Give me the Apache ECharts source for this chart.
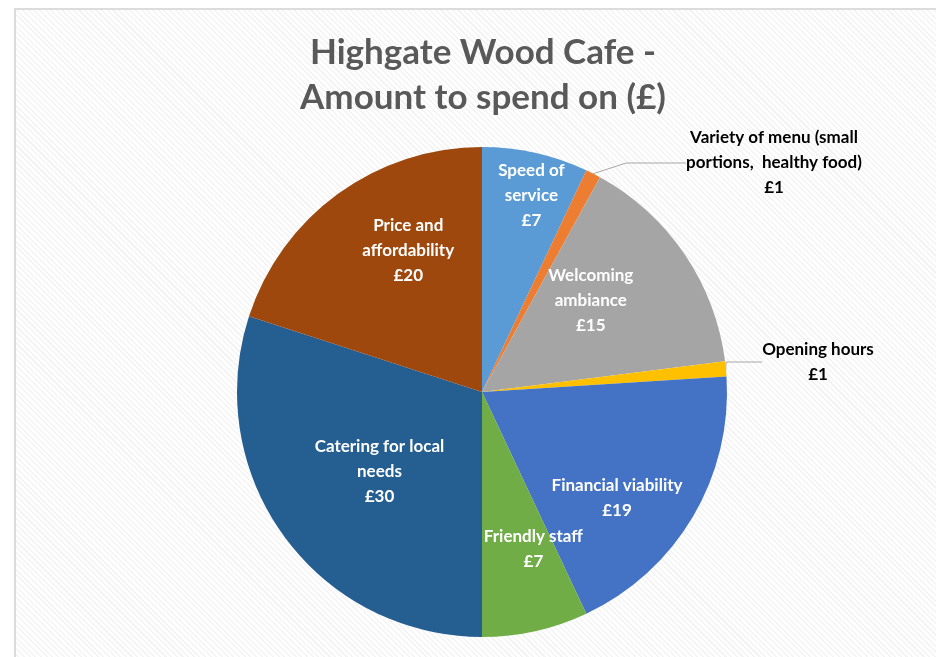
<!DOCTYPE html>
<html>
<head>
<meta charset="utf-8">
<script src="https://cdn.jsdelivr.net/npm/echarts@6/dist/echarts.min.js"></script>
<style>
  html, body { margin: 0; padding: 0; background: #ffffff; }
  #wrap { position: relative; width: 936px; height: 657px; overflow: hidden; background: #ffffff; }
  #frame { position: absolute; left: 14px; top: 8px; width: 940px; height: 660px;
    border-left: 2px solid #dcdcdc; border-top: 2px solid #dcdcdc;
    background: repeating-linear-gradient(45deg, #ffffff 0px, #ffffff 2.5px, #f4f4f4 2.5px, #f4f4f4 4px); }
  #chart { position: absolute; left: 0; top: 0; width: 936px; height: 657px; }
</style>
</head>
<body>
<div id="wrap"><div id="frame"></div><div id="chart"></div></div>
<script>
const categories = [
  "Speed of\nservice",
  "Variety of menu (small\nportions,  healthy food)",
  "Welcoming\nambiance",
  "Opening hours",
  "Financial viability",
  "Friendly staff",
  "Catering for local\nneeds",
  "Price and\naffordability"
];
const values = [7, 1, 15, 1, 19, 7, 30, 20];
const colors = ["#5B9BD5", "#ED7D31", "#A5A5A5", "#FFC000", "#4472C4", "#70AD47", "#255E91", "#9E480E"];
const outsideLabels = [1, 3];

// label fine adjustments (pixel offsets from default inside position / absolute for outside)
const insideShift = {0: [22, -74], 2: [5, -21], 4: [27, 42], 5: [24, 35], 6: [-1, 6], 7: [0, -40]};
const outsidePos = {1: [774, 163], 3: [818, 362]};

const chart = echarts.init(document.getElementById('chart'), null, {renderer: 'canvas'});
const data = categories.map((c, i) => {
  const outside = outsideLabels.includes(i);
  return {
    name: c,
    value: values[i],
    itemStyle: {color: colors[i]},
    label: outside ? {
      position: 'outside', color: '#000000'
    } : {
      position: 'inside', color: '#ffffff'
    },
    labelLine: {show: outside}
  };
});

chart.setOption({
  animation: false,
  backgroundColor: 'transparent',
  title: {
    text: 'Highgate Wood Cafe -\nAmount to spend on (£)',
    left: 483,
    textAlign: 'center',
    top: 30,
    padding: 0,
    textStyle: {fontFamily: 'Lato', fontWeight: 'bold', fontSize: 35, lineHeight: 45, color: '#595959'}
  },
  series: [{
    type: 'pie',
    center: [482, 392],
    radius: [0, 245],
    startAngle: 90,
    clockwise: true,
    avoidLabelOverlap: false,
    data: data,
    itemStyle: {borderWidth: 0},
    label: {
      show: true,
      formatter: p => p.name + '\n£' + p.value,
      fontFamily: 'Lato',
      fontWeight: 'bold',
      fontSize: 17,
      lineHeight: 25,
      align: 'center'
    },
    labelLine: {lineStyle: {color: '#a6a6a6', width: 1}, length: 8, length2: 60},
    labelLayout: function (p) {
      const i = p.dataIndex;
      if (outsidePos[i]) {
        return {x: outsidePos[i][0], y: outsidePos[i][1], align: 'center', verticalAlign: 'middle'};
      }
      const s = insideShift[i] || [0, 0];
      return {dx: s[0], dy: s[1]};
    }
  }]
});
</script>
</body>
</html>
